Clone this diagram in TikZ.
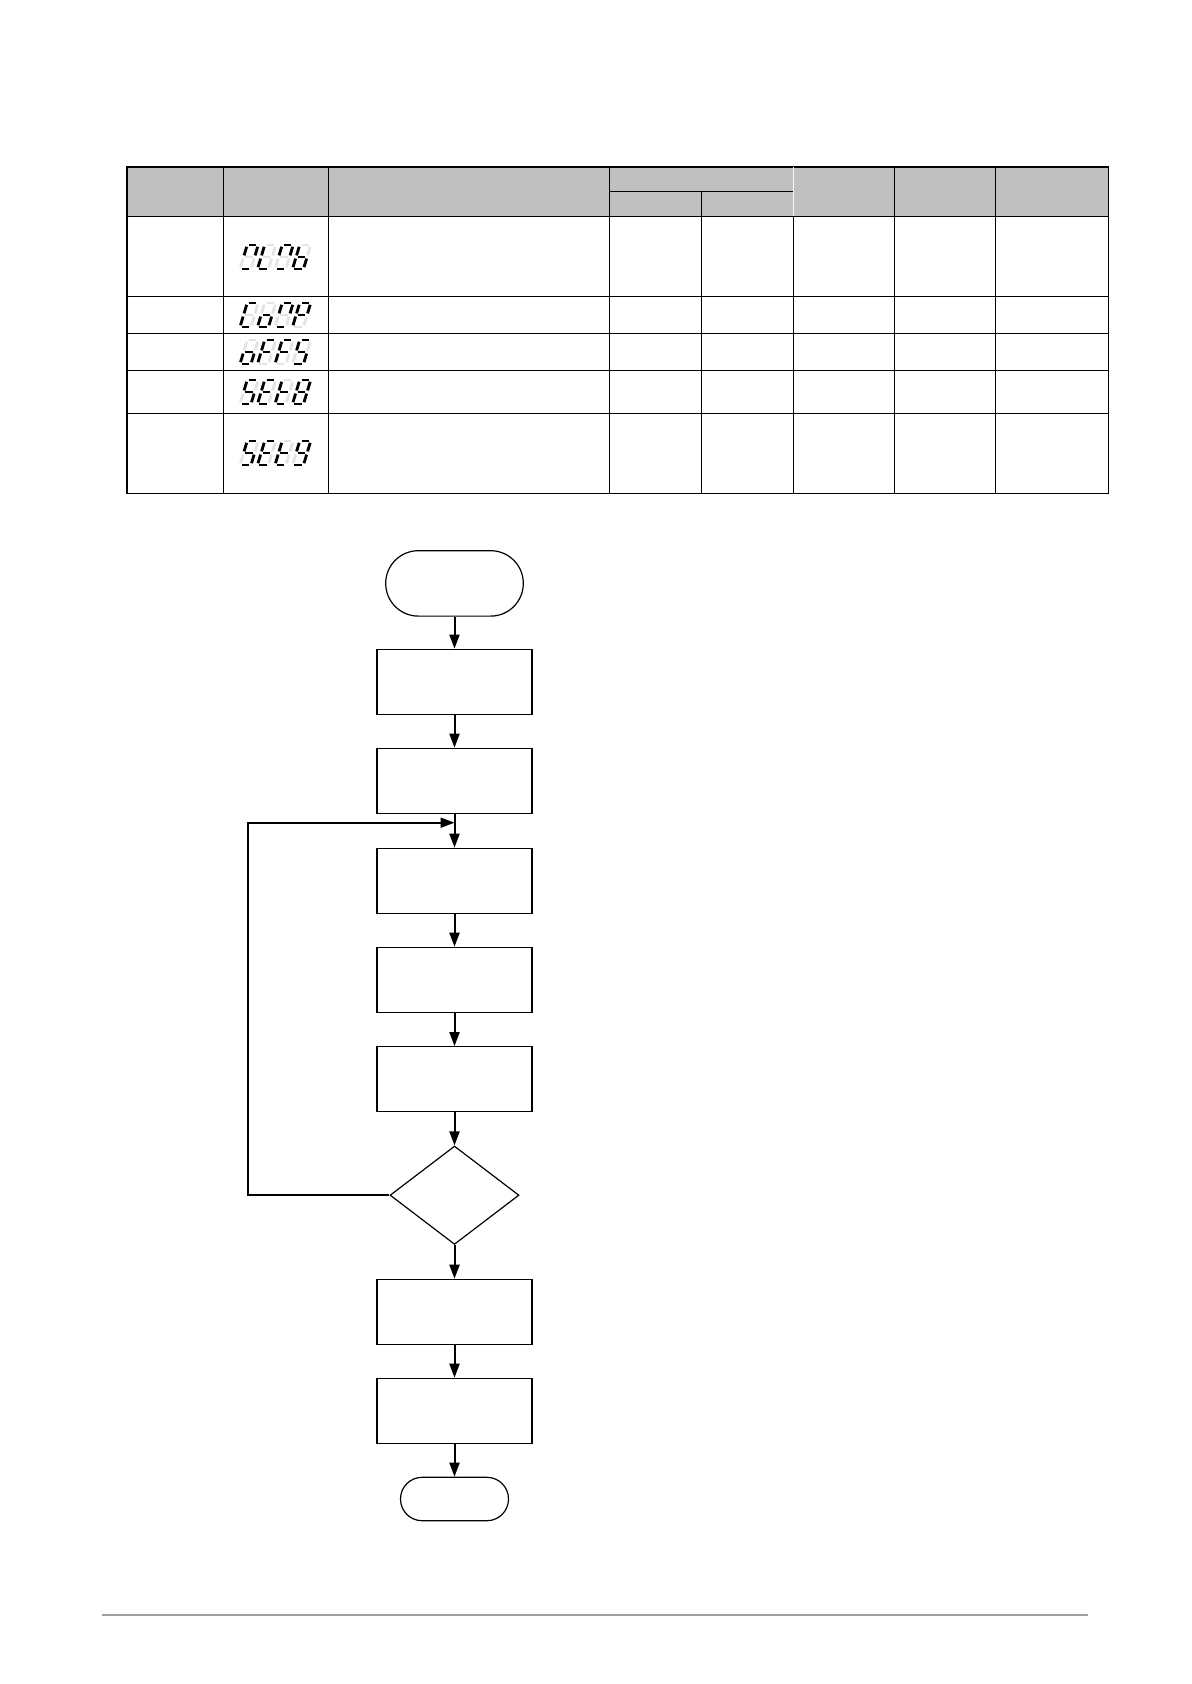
\documentclass[tikz,border=0pt]{standalone}
\usetikzlibrary{shapes.geometric,arrows.meta}
\definecolor{hdrgray}{HTML}{C0C0C0}
\definecolor{footgray}{HTML}{A0A0A0}
\definecolor{segdim}{HTML}{E4E4E4}
\tikzset{
  tline/.style={line width=0.7pt, black},
  box/.style={draw, line width=0.6pt, minimum width=77.5pt, minimum height=32.5pt, inner sep=0pt},
  startterm/.style={draw, line width=0.6pt, rounded corners=16.3pt, minimum width=68.8pt, minimum height=32.7pt, inner sep=0pt},
  endterm/.style={draw, line width=0.6pt, rounded corners=10.8pt, minimum width=54pt, minimum height=21.7pt, inner sep=0pt},
  decision/.style={diamond, draw, line width=0.6pt, minimum width=64.5pt, minimum height=49.2pt, inner sep=0pt},
  arr/.style={line width=1pt, -{Triangle[length=7pt,width=5pt]}},
  segoff/.style={line width=1.4pt, segdim},
  segon/.style={line width=1.4pt, black},
}
% seven segment digit: local y up, width 11, height 24
\newcommand\mysega{\draw[segst] (1.8,24)--(9.2,24);}
\newcommand\mysegb{\draw[segst] (11,22.2)--(11,13.6);}
\newcommand\mysegc{\draw[segst] (11,10.4)--(11,1.8);}
\newcommand\mysegd{\draw[segst] (1.8,0)--(9.2,0);}
\newcommand\mysege{\draw[segst] (0,1.8)--(0,10.4);}
\newcommand\mysegf{\draw[segst] (0,13.6)--(0,22.2);}
\newcommand\myseggg{\draw[segst] (1.8,12)--(9.2,12);}
\newcommand\sdig[3]{%
  \begin{scope}[shift={(#1,#2)},x={(0.5pt,0pt)},y={(0.15pt,0.5pt)}]
    \tikzset{segst/.style={segoff}}
    \mysega\mysegb\mysegc\mysegd\mysege\mysegf\myseggg
    \tikzset{segst/.style={segon}}
    \foreach \s in {#3}{\csname myseg\s\endcsname}
  \end{scope}}
% display of four digits centred at (cx,cy)
\newcommand\sdisp[6]{%
  \sdig{#1-36}{#2+12}{#3}
  \sdig{#1-18.5}{#2+12}{#4}
  \sdig{#1-1}{#2+12}{#5}
  \sdig{#1+16.5}{#2+12}{#6}}
\begin{document}
\begin{tikzpicture}[x=0.5pt,y=-0.5pt]
\useasboundingbox (0,0) rectangle (1191,1684);

% ---------- table ----------
\fill[hdrgray] (127,167) rectangle (1108.3,216.7);
\draw[tline] (127,167) rectangle (1108.3,493.3);
\foreach \yy in {216.7,296.3,333.3,370.3,413.3}
  \draw[tline] (127,\yy) -- (1108.3,\yy);
\draw[tline] (609.3,191.7) -- (793.3,191.7);
\foreach \xx in {223.3,328.3,609.3,894.7,995.3}
  \draw[tline] (\xx,167) -- (\xx,493.3);
\draw[tline] (701.3,191.7) -- (701.3,493.3);
\draw[tline] (793.3,216.7) -- (793.3,493.3);
\draw[line width=0.7pt, white!85!hdrgray] (793.3,167.5) -- (793.3,216.2);

% seven segment displays
\sdisp{276}{257}{a,b,f,d}{d,e,f}{a,b,f,d}{c,d,e,f,gg}
\sdisp{276}{315}{a,d,e,f}{c,d,e,gg}{a,b,f,d}{a,b,e,f,gg}
\sdisp{276}{352}{c,d,e,gg}{a,e,f,gg}{a,e,f,gg}{a,c,d,f,gg}
\sdisp{276}{392}{a,c,d,f,gg}{a,d,e,f,gg}{d,e,f,gg}{a,b,c,d,e,f,gg}
\sdisp{276}{453}{a,c,d,f,gg}{a,d,e,f,gg}{d,e,f,gg}{a,b,c,d,f,gg}

% ---------- flowchart ----------
\node[startterm] (start) at (454.5,583.4) {};
\node[box] (b1) at (454.5,681.7) {};
\node[box] (b2) at (454.5,780.8) {};
\node[box] (b3) at (454.5,880.8) {};
\node[box] (b4) at (454.5,979.8) {};
\node[box] (b5) at (454.5,1079.2) {};
\node[decision] (dec) at (454.5,1195.2) {};
\node[box] (b6) at (454.5,1311.8) {};
\node[box] (b7) at (454.5,1410.8) {};
\node[endterm] (stop) at (454.5,1499) {};

\coordinate (merge) at (454.5,822.7);
\coordinate (loopc) at (247.7,822.7);

\draw[arr] (start) -- (b1);
\draw[arr] (b1) -- (b2);
\draw[arr] (b2) -- (b3);
\draw[arr] (b3) -- (b4);
\draw[arr] (b4) -- (b5);
\draw[arr] (b5) -- (dec);
\draw[arr] (dec) -- (b6);
\draw[arr] (b6) -- (b7);
\draw[arr] (b7) -- (stop);
\draw[arr] (dec.west) -| (loopc) -- (merge);

% footer rule
\draw[line width=1pt, footgray] (102,1615) -- (1088,1615);
\end{tikzpicture}
\end{document}
